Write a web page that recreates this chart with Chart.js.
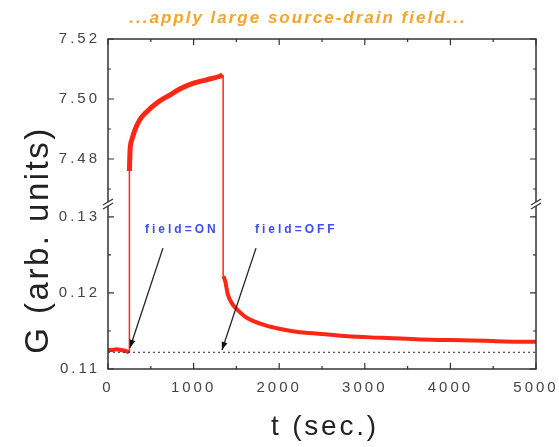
<!DOCTYPE html>
<html>
<head>
<meta charset="utf-8">
<script src="https://cdn.jsdelivr.net/npm/chart.js@4.4.0/dist/chart.umd.min.js"></script>
<style>
html, body { margin: 0; padding: 0; background: #fff; }
#wrap { width: 559px; height: 447px; position: relative; }
</style>
</head>
<body>
<div id="wrap"><canvas id="gChart"></canvas></div>
<script>
// G(t) readings taken off the plot
// before the field is switched on (lower panel)
var tBase = [0, 50, 100, 150, 200, 245];
var gBase = [0.1125, 0.1125, 0.1126, 0.1125, 0.1124, 0.1122];
// field on: rise (upper panel)
var tOn = [250, 258, 280, 315, 370, 450, 570, 720, 850, 1000, 1150, 1300, 1340];
var gOn = [7.476, 7.483, 7.4865, 7.4897, 7.493, 7.4957, 7.4987, 7.5013, 7.5035, 7.5053, 7.5064, 7.5075, 7.508];
// field off: decay (lower panel)
var tOff = [1350, 1370, 1400, 1450, 1510, 1600, 1700, 1850, 2000, 2200, 2500, 2800, 3200, 3600, 4000, 4400, 4800, 5000];
var gOff = [0.1222, 0.1215, 0.1198, 0.1186, 0.1178, 0.1169, 0.1163, 0.1157, 0.1153, 0.1149, 0.1146, 0.1143, 0.1141, 0.1139, 0.1138, 0.1137, 0.1136, 0.1136];

// switching times and the edges of the two panels (the trace jumps over the break)
var tSwitchOn = 250;
var tSwitchOff = 1345;
var gHighMin = 7.465, gHighMax = 7.52;
var gLowMin = 0.11, gLowMax = 0.1317;
var gRef = 0.1122;   // dotted reference level

// tick labels
var xTickVals = [0, 1000, 2000, 3000, 4000, 5000];
var yHighTickVals = [7.48, 7.50, 7.52];
var yLowTickVals = [0.11, 0.12, 0.13];

// annotations
var fieldText = ['field=ON', 'field=OFF'];
var fieldT = [432, 1717];
var fieldG = [0.1283, 0.1283];
var arrowT0 = [642, 1729];
var arrowG0 = [0.1259, 0.1259];
var arrowT1 = [257, 1332];
var arrowG1 = [0.1128, 0.1125];

var red = 'rgb(255,38,20)';
var fontFam = '"Liberation Sans", Arial, sans-serif';
Chart.defaults.font.family = fontFam;

function pts(ts, gs) {
	return ts.map(function(t, i) { return { x: t, y: gs[i] }; });
}

var datasets = [
	{ data: pts([arrowT0[0], arrowT1[0]], [arrowG0[0], arrowG1[0]]), yAxisID: 'yLow', borderColor: '#222', borderWidth: 1.3, order: 0, isArrow: true },
	{ data: pts([arrowT0[1], arrowT1[1]], [arrowG0[1], arrowG1[1]]), yAxisID: 'yLow', borderColor: '#222', borderWidth: 1.3, order: 0, isArrow: true },
	{ data: pts(tBase, gBase), yAxisID: 'yLow', borderColor: red, borderWidth: 4, order: 2 },
	{ data: pts(tOn, gOn), yAxisID: 'yHigh', borderColor: red, borderWidth: 5, cubicInterpolationMode: 'monotone', order: 2 },
	{ data: pts(tOff, gOff), yAxisID: 'yLow', borderColor: red, borderWidth: 4, cubicInterpolationMode: 'monotone', order: 2 },
	// thin jump lines
	{ data: pts([tSwitchOn, tSwitchOn], [gBase[gBase.length - 1], gLowMax]), yAxisID: 'yLow', borderColor: red, borderWidth: 1.5, order: 3 },
	{ data: pts([tSwitchOn, tSwitchOn], [gHighMin, gOn[0]]), yAxisID: 'yHigh', borderColor: red, borderWidth: 1.5, order: 3 },
	{ data: pts([tSwitchOff, tSwitchOff], [gOn[gOn.length - 1], gHighMin]), yAxisID: 'yHigh', borderColor: red, borderWidth: 1.5, order: 3 },
	{ data: pts([tSwitchOff, tSwitchOff], [gLowMax, gOff[0]]), yAxisID: 'yLow', borderColor: red, borderWidth: 1.5, order: 3 },
	// dotted reference
	{ data: pts([0, 5000], [gRef, gRef]), yAxisID: 'yLow', borderColor: '#222', borderWidth: 1, borderDash: [2, 3], order: 1 }
];

function setTicks(vals) {
	return function(scale) { scale.ticks = vals.map(function(v) { return { value: v }; }); };
}

var decor = {
	id: 'decor',
	beforeLayout: function(chart) { chart.ctx.letterSpacing = '3px'; },
	beforeDraw: function(chart) { chart.ctx.letterSpacing = '3px'; },
	afterDraw: function(chart) {
		var ctx = chart.ctx, ca = chart.chartArea;
		var xs = chart.scales.x, yh = chart.scales.yHigh, yl = chart.scales.yLow;
		ctx.save();
		ctx.strokeStyle = '#333';
		ctx.lineWidth = 1.5;
		ctx.strokeRect(ca.left, ca.top, ca.right - ca.left, ca.bottom - ca.top);
		// inner ticks
		ctx.lineWidth = 1.2;
		ctx.beginPath();
		xTickVals.forEach(function(v, i) {
			var p = xs.getPixelForValue(v);
			ctx.moveTo(p, ca.bottom); ctx.lineTo(p, ca.bottom - 6);
			ctx.moveTo(p, ca.top); ctx.lineTo(p, ca.top + 6);
			if (i < xTickVals.length - 1) {
				var m = xs.getPixelForValue(v + (xTickVals[1] - xTickVals[0]) / 2);
				ctx.moveTo(m, ca.bottom); ctx.lineTo(m, ca.bottom - 3);
				ctx.moveTo(m, ca.top); ctx.lineTo(m, ca.top + 3);
			}
		});
		[[yh, yHighTickVals], [yl, yLowTickVals]].forEach(function(pair) {
			var sc = pair[0], vals = pair[1], step = vals[1] - vals[0];
			vals.forEach(function(v) {
				[v, v - step / 2, v + step / 2].forEach(function(w, k) {
					if (w < sc.min - 1e-9 || w > sc.max + 1e-9) return;
					var p = sc.getPixelForValue(w), len = k === 0 ? 6 : 3;
					ctx.moveTo(ca.left, p); ctx.lineTo(ca.left + len, p);
					ctx.moveTo(ca.right, p); ctx.lineTo(ca.right - len, p);
				});
			});
		});
		ctx.stroke();
		// axis break marks
		var yb = yh.bottom;
		[ca.left, ca.right].forEach(function(x) {
			ctx.fillStyle = '#fff';
			ctx.beginPath();
			ctx.moveTo(x - 5, yb + 1); ctx.lineTo(x + 5, yb - 5); ctx.lineTo(x + 5, yb - 1); ctx.lineTo(x - 5, yb + 5);
			ctx.closePath(); ctx.fill();
			ctx.strokeStyle = '#333'; ctx.lineWidth = 1.2;
			ctx.beginPath();
			ctx.moveTo(x - 5, yb + 1); ctx.lineTo(x + 5, yb - 5);
			ctx.moveTo(x - 5, yb + 5); ctx.lineTo(x + 5, yb - 1);
			ctx.stroke();
		});
		// arrow heads
		chart.data.datasets.forEach(function(ds, i) {
			if (!ds.isArrow) return;
			var d = chart.getDatasetMeta(i).data;
			var a = Math.atan2(d[1].y - d[0].y, d[1].x - d[0].x);
			ctx.fillStyle = '#111';
			ctx.beginPath();
			ctx.moveTo(d[1].x, d[1].y);
			ctx.lineTo(d[1].x - 8 * Math.cos(a) + 3 * Math.sin(a), d[1].y - 8 * Math.sin(a) - 3 * Math.cos(a));
			ctx.lineTo(d[1].x - 8 * Math.cos(a) - 3 * Math.sin(a), d[1].y - 8 * Math.sin(a) + 3 * Math.cos(a));
			ctx.closePath(); ctx.fill();
		});
		// field labels
		ctx.fillStyle = '#3b4ef0';
		ctx.font = 'bold 12px ' + fontFam;
		ctx.letterSpacing = '3px';
		ctx.textAlign = 'left';
		ctx.textBaseline = 'middle';
		fieldText.forEach(function(s, i) {
			ctx.fillText(s, xs.getPixelForValue(fieldT[i]), yl.getPixelForValue(fieldG[i]));
		});
		// title
		ctx.fillStyle = '#f4a52a';
		ctx.font = 'italic bold 17px ' + fontFam;
		ctx.letterSpacing = '2px';
		ctx.textAlign = 'center';
		ctx.textBaseline = 'alphabetic';
		ctx.fillText('...apply large source-drain field...', 298, 23);
		// axis titles
		ctx.fillStyle = '#222';
		ctx.font = '28px ' + fontFam;
		ctx.letterSpacing = '2.8px';
		ctx.fillText('t (sec.)', (ca.left + ca.right) / 2 + 3, 435);
		ctx.translate(48, 240);
		ctx.rotate(-Math.PI / 2);
		ctx.font = '33px ' + fontFam;
		ctx.letterSpacing = '2.5px';
		ctx.fillText('G (arb. units)', 0, 0);
		ctx.restore();
	}
};

var tickFont = { size: 15 };
new Chart(document.getElementById('gChart'), {
	type: 'line',
	data: { datasets: datasets },
	options: {
		responsive: true,
		maintainAspectRatio: false,
		animation: false,
		layout: { padding: { left: 0, right: 23, top: 39, bottom: 0 } },
		elements: { point: { radius: 0 }, line: { fill: false } },
		plugins: { legend: { display: false }, tooltip: { enabled: false }, title: { display: false } },
		scales: {
			x: {
				type: 'linear', min: 0, max: 5000,
				grid: { display: false, drawTicks: false }, border: { display: false },
				afterBuildTicks: setTicks(xTickVals),
				afterFit: function(s) { s.height = 78; s.paddingLeft = 0; s.paddingRight = 0; },
				ticks: { color: '#444', font: tickFont, padding: 10, maxRotation: 0, callback: function(v) { return String(v); } }
			},
			yLow: {
				type: 'linear', position: 'left', stack: 'g', stackWeight: 1,
				min: gLowMin, max: gLowMax,
				grid: { display: false, drawTicks: false }, border: { display: false },
				afterBuildTicks: setTicks(yLowTickVals),
				afterFit: function(s) { s.width = 108; },
				ticks: { color: '#444', font: tickFont, padding: 8, callback: function(v) { return v.toFixed(2); } }
			},
			yHigh: {
				type: 'linear', position: 'left', stack: 'g', stackWeight: 1,
				min: gHighMin, max: gHighMax,
				grid: { display: false, drawTicks: false }, border: { display: false },
				afterBuildTicks: setTicks(yHighTickVals),
				afterFit: function(s) { s.width = 108; },
				ticks: { color: '#444', font: tickFont, padding: 8, callback: function(v) { return v.toFixed(2); } }
			}
		}
	},
	plugins: [decor]
});
</script>
</body>
</html>
